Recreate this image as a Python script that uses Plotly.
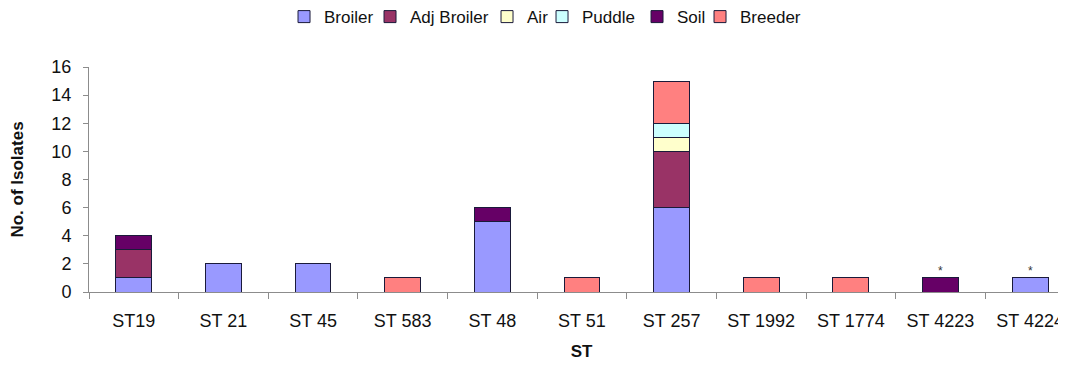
import plotly.graph_objects as go

categories = ["ST19", "ST 21", "ST 45", "ST 583", "ST 48", "ST 51", "ST 257", "ST 1992", "ST 1774", "ST 4223", "ST 4224"]
broiler     = [1, 2, 2, 0, 5, 0, 6, 0, 0, 0, 1]
adj_broiler = [2, 0, 0, 0, 0, 0, 4, 0, 0, 0, 0]
air         = [0, 0, 0, 0, 0, 0, 1, 0, 0, 0, 0]
puddle      = [0, 0, 0, 0, 0, 0, 1, 0, 0, 0, 0]
soil        = [1, 0, 0, 0, 1, 0, 0, 0, 0, 1, 0]
breeder     = [0, 0, 0, 1, 0, 1, 3, 1, 1, 0, 0]
starred     = ["ST 4223", "ST 4224"]

series = [
    ("Broiler", broiler, "#9999FF"),
    ("Adj Broiler", adj_broiler, "#993366"),
    ("Air", air, "#FFFFCC"),
    ("Puddle", puddle, "#CCFFFF"),
    ("Soil", soil, "#660066"),
    ("Breeder", breeder, "#FF8080"),
]
# legend entry widths (px) to mimic the compact spacing of the original
legend_widths = {"Broiler": 41, "Adj Broiler": 72, "Air": 10,
                 "Puddle": 50, "Soil": 18, "Breeder": 60}

fig = go.Figure()
for name, vals, col in series:
    fig.add_trace(go.Bar(
        x=categories, y=[v if v else None for v in vals], name=name,
        marker=dict(color=col, line=dict(color="#1a1a3a", width=1)),
        width=0.4, legendwidth=legend_widths[name],
    ))

totals = [sum(s[1][i] for s in series) for i in range(len(categories))]
for c in starred:
    i = categories.index(c)
    fig.add_annotation(x=c, y=totals[i], text="*", showarrow=False,
                       yanchor="bottom", yshift=-2,
                       font=dict(size=12, color="#333333"))

fig.update_layout(
    barmode="stack",
    width=1066, height=367,
    margin=dict(l=81, r=0, t=59, b=83, autoexpand=False),
    plot_bgcolor="white", paper_bgcolor="white",
    font=dict(family="Liberation Sans, Arial, sans-serif", color="#111111"),
    showlegend=True,
    legend=dict(orientation="h", x=0.198, xanchor="left",
                y=1.222, yanchor="middle",
                font=dict(size=17), traceorder="normal",
                itemwidth=30),
    xaxis=dict(
        range=[-0.5, 10.49], automargin=False,
        showline=True, linecolor="#8c8c8c", linewidth=1,
        ticks="outside", tickson="boundaries", ticklen=6, tickcolor="#8c8c8c",
        tickfont=dict(size=18), ticklabelstandoff=12,
        title=dict(text="<b>ST</b>", font=dict(size=17), standoff=15),
        showgrid=False,
    ),
    yaxis=dict(
        range=[0, 16], dtick=2, automargin=False,
        showline=True, linecolor="#8c8c8c", linewidth=1,
        ticks="outside", ticklen=5, tickcolor="#8c8c8c",
        tickfont=dict(size=18), ticklabelstandoff=8,
        title=dict(text="<b>No. of Isolates</b>", font=dict(size=17), standoff=25),
        showgrid=False, zeroline=False,
    ),
    bargap=0.6,
)

fig.write_html("out.html")
